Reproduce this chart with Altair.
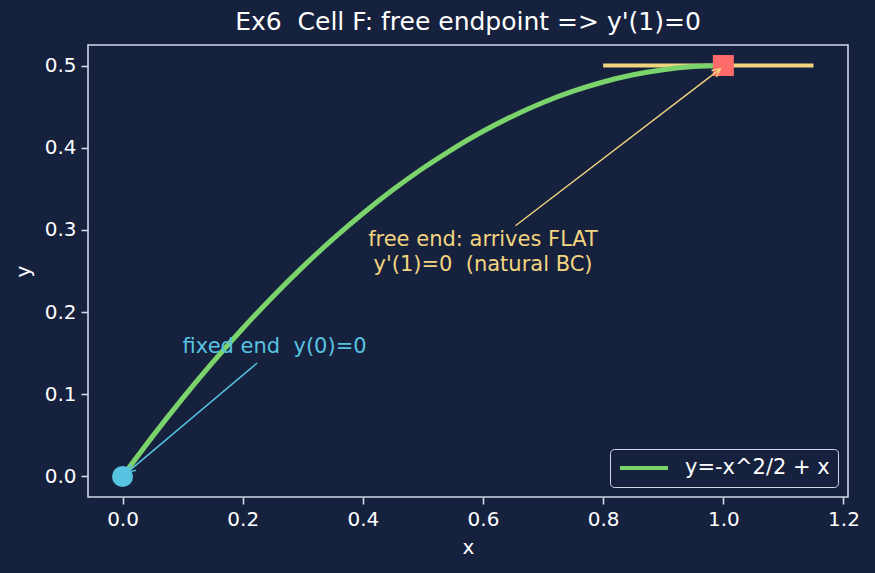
import math
import altair as alt
import pandas as pd

NB = "\u00a0"

# ---------------- data ----------------
curve_x = [0.0, 0.05, 0.1, 0.15, 0.2, 0.25, 0.3, 0.35, 0.4, 0.45, 0.5,
           0.55, 0.6, 0.65, 0.7, 0.75, 0.8, 0.85, 0.9, 0.95, 1.0]
curve_y = [0.0, 0.04875, 0.095, 0.13875, 0.18, 0.21875, 0.255, 0.28875, 0.32, 0.34875, 0.375,
           0.39875, 0.42, 0.43875, 0.455, 0.46875, 0.48, 0.48875, 0.495, 0.49875, 0.5]
curve_label = "y=-x^2/2 + x"

start_pt = [0.0, 0.0]
end_pt = [1.0, 0.5]
flat_line_x = [0.8, 1.15]
flat_line_y = 0.5

title_text = "Ex6 " + NB + "Cell F: free endpoint => y'(1)=0"
fixed_text = "fixed end " + NB + "y(0)=0"
fixed_text_pos = [0.1, 0.15]
fixed_arrow = [0.224, 0.138, 0.008, 0.005]   # x0, y0, x1 (tip), y1 (tip)

free_text = ["free end: arrives FLAT", "y'(1)=0 " + NB + "(natural BC)"]
free_text_pos = [0.6, 0.25]
free_arrow = [0.654, 0.305, 0.995, 0.496]

x_ticks = [0.0, 0.2, 0.4, 0.6, 0.8, 1.0, 1.2]
y_ticks = [0.0, 0.1, 0.2, 0.3, 0.4, 0.5]
x_domain = [-0.0575, 1.2075]
y_domain = [-0.025, 0.525]

# ---------------- styles ----------------
BG = "#16213e"
FRAME = "#d0d8e8"
GREEN = "#7bd36b"
CYAN = "#56c3e0"
SALMON = "#ff6b6b"
YELLOW = "#f2d57e"
FONT = "DejaVu Sans"
W, H = 760, 452

xs = alt.Scale(domain=x_domain, nice=False, zero=False)
ys = alt.Scale(domain=y_domain, nice=False, zero=False)

curve_df = pd.DataFrame({"x": curve_x, "y": curve_y, "s": [curve_label] * len(curve_x)})

xenc = alt.X("x:Q", scale=xs,
             axis=alt.Axis(values=x_ticks, format=".1f", title="x"))
yenc = alt.Y("y:Q", scale=ys,
             axis=alt.Axis(values=y_ticks, format=".1f", title="y"))

curve = alt.Chart(curve_df).mark_line(strokeWidth=5, interpolate="monotone").encode(
    x=xenc, y=yenc,
    color=alt.Color("s:N", scale=alt.Scale(domain=[curve_label], range=[GREEN]),
                    legend=alt.Legend(title=None, orient="bottom-right", offset=10,
                                      symbolType="stroke", symbolStrokeWidth=4,
                                      symbolSize=2304, clipHeight=22,
                                      labelFontSize=21, labelFont=FONT,
                                      labelColor="white", strokeColor=FRAME,
                                      fillColor=BG, cornerRadius=4, padding=8,
                                      labelOffset=15)),
)

flat_df = pd.DataFrame({"x": [flat_line_x[0]], "x2": [flat_line_x[1]], "y": [flat_line_y]})
flat = alt.Chart(flat_df).mark_rule(color=YELLOW, strokeWidth=4).encode(
    x=alt.X("x:Q", scale=xs), x2="x2:Q", y=alt.Y("y:Q", scale=ys))

start_df = pd.DataFrame({"x": [start_pt[0]], "y": [start_pt[1]]})
start = alt.Chart(start_df).mark_point(shape="circle", filled=True, size=441,
                                        color=CYAN, opacity=1).encode(
    x=alt.X("x:Q", scale=xs), y=alt.Y("y:Q", scale=ys))

end_df = pd.DataFrame({"x": [end_pt[0]], "y": [end_pt[1]]})
end = alt.Chart(end_df).mark_point(shape="square", filled=True, size=441,
                                    color=SALMON, opacity=1).encode(
    x=alt.X("x:Q", scale=xs), y=alt.Y("y:Q", scale=ys))

sx = W / (x_domain[1] - x_domain[0])
sy = H / (y_domain[1] - y_domain[0])


def head_angle(a):
    dx = (a[2] - a[0]) * sx
    dy = -(a[3] - a[1]) * sy
    return math.degrees(math.atan2(dx, -dy)) % 360


arrows_df = pd.DataFrame({
    "x": [fixed_arrow[0], free_arrow[0]], "y": [fixed_arrow[1], free_arrow[1]],
    "x2": [fixed_arrow[2], free_arrow[2]], "y2": [fixed_arrow[3], free_arrow[3]],
    "c": [CYAN, YELLOW],
    "ang": [head_angle(fixed_arrow), head_angle(free_arrow)],
})
shafts = alt.Chart(arrows_df).mark_rule(strokeWidth=1.4).encode(
    x=alt.X("x:Q", scale=xs), y=alt.Y("y:Q", scale=ys), x2="x2:Q", y2="y2:Q",
    color=alt.Color("c:N", scale=None))
heads = alt.Chart(arrows_df).mark_point(shape="M-0.5,1L0,0L0.5,1", filled=False,
                                         size=256, strokeWidth=1.4, opacity=1).encode(
    x=alt.X("x2:Q", scale=xs), y=alt.Y("y2:Q", scale=ys),
    angle=alt.Angle("ang:Q", scale=None),
    color=alt.Color("c:N", scale=None))

fixed_df = pd.DataFrame({"x": [fixed_text_pos[0]], "y": [fixed_text_pos[1]], "t": [fixed_text]})
fixed_lbl = alt.Chart(fixed_df).mark_text(align="left", baseline="alphabetic",
                                           fontSize=21, font=FONT, color=CYAN).encode(
    x=alt.X("x:Q", scale=xs), y=alt.Y("y:Q", scale=ys), text="t:N")

free_lbl = alt.Chart(pd.DataFrame({"x": [free_text_pos[0]], "y": [free_text_pos[1]]})).mark_text(
    align="center", baseline="alphabetic", fontSize=21, font=FONT, color=YELLOW,
    text=free_text, lineHeight=25, dy=-25).encode(
    x=alt.X("x:Q", scale=xs), y=alt.Y("y:Q", scale=ys))

chart = alt.layer(flat, curve, start, end, shafts, heads, fixed_lbl, free_lbl).properties(
    width=W, height=H,
    title=alt.Title(title_text, fontSize=25, font=FONT,
                    fontWeight="normal", color="white", anchor="middle", offset=10),
    autosize=alt.AutoSizeParams(type="none"),
    padding={"left": 88, "top": 45, "right": 27, "bottom": 76},
    background=BG,
).configure_view(
    stroke=FRAME, strokeWidth=1.6
).configure_axis(
    domain=False, ticks=True, tickSize=7, tickWidth=1.6, tickColor=FRAME,
    labelFont=FONT, labelFontSize=20, labelColor="white", labelPadding=5,
    titleFont=FONT, titleFontSize=20, titleColor="white", titleFontWeight="normal",
    grid=False,
).configure_axisX(titlePadding=8).configure_axisY(titlePadding=11)

chart.save("out.html", embed_options={"renderer": "svg", "actions": False})
